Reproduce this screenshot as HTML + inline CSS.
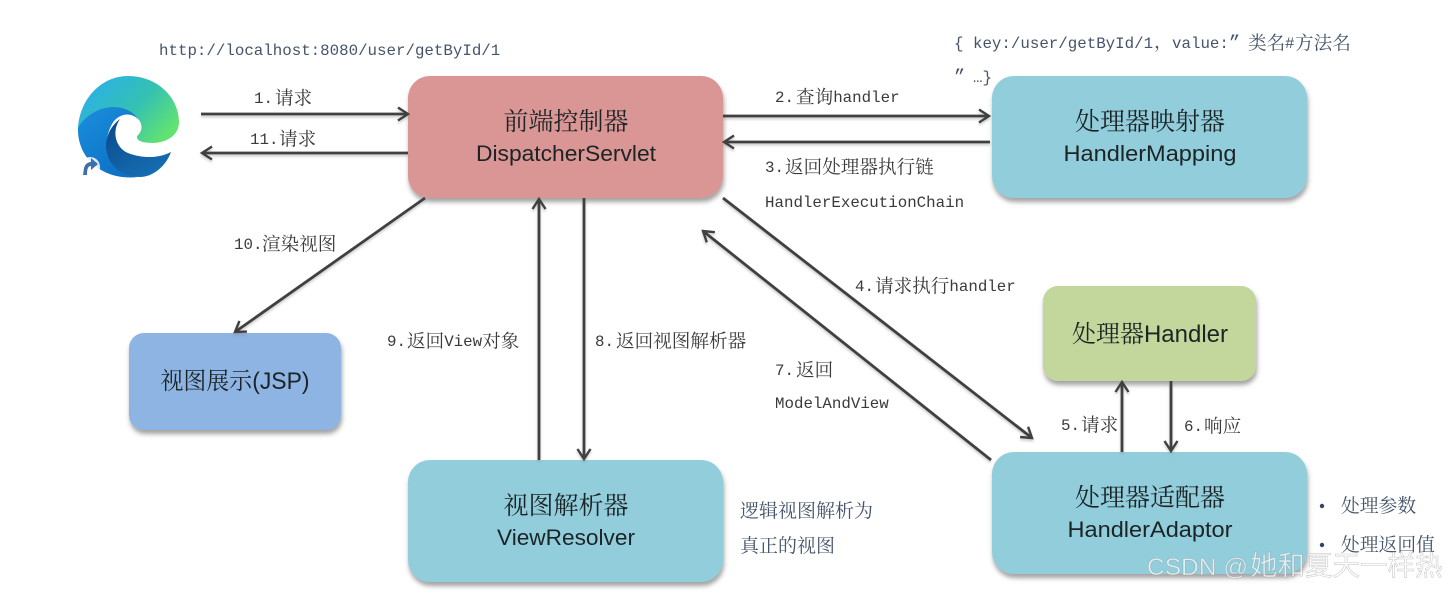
<!DOCTYPE html>
<html><head><meta charset="utf-8"><style>
html,body{margin:0;padding:0;background:#fff;width:1447px;height:592px;overflow:hidden}
svg{display:block}
.m{font-family:"Liberation Mono","Noto Serif CJK SC",monospace;font-size:15.8px;fill:#3a3a3a}
.b{font-family:"Liberation Mono","Noto Serif CJK SC",monospace;font-size:15.8px;fill:#44546a}
.k{font-size:18.6px}
.c{font-family:"Liberation Sans","Noto Serif CJK SC",sans-serif;fill:#1c2426;text-anchor:middle}
.z{font-size:25px}.e{font-size:22px}
.l{stroke:#404040;stroke-width:2.8;fill:none}
</style></head><body>
<svg width="1447" height="592" viewBox="0 0 1447 592" xmlns="http://www.w3.org/2000/svg">
<defs>
<filter id="s" x="-10%" y="-10%" width="120%" height="125%"><feDropShadow dx="1" dy="4" stdDeviation="2.5" flood-color="#555" flood-opacity=".55"/></filter>
<filter id="ls" filterUnits="userSpaceOnUse" x="0" y="0" width="1447" height="592"><feDropShadow dx="0" dy="2" stdDeviation="1.2" flood-color="#888" flood-opacity=".45"/></filter>
<marker id="a" markerUnits="userSpaceOnUse" markerWidth="16" markerHeight="16" refX="12" refY="8" orient="auto-start-reverse"><path d="M2 1.500L12 8L2 14.500" fill="none" stroke="#404040" stroke-width="2.4"/></marker>
<linearGradient id="g1" x1="0.1" y1="0.15" x2="1" y2="0.7"><stop offset="0" stop-color="#2bb0e6"/><stop offset=".55" stop-color="#35c2b0"/><stop offset="1" stop-color="#62e36f"/></linearGradient>
<linearGradient id="g2" x1="0" y1="0" x2="0.7" y2="1"><stop offset="0" stop-color="#1a8fdc"/><stop offset="1" stop-color="#0d70c4"/></linearGradient>
<linearGradient id="g3" x1="0.2" y1="0" x2="0.8" y2="1"><stop offset="0" stop-color="#0c4a8c"/><stop offset="1" stop-color="#1670b5"/></linearGradient>
</defs>

<!-- browser logo -->
<g>
<path d="M78 128C80 98 102 76 128 76C158 76 179 98 179 122C179 135 167 143 152 143C143 143 136 141 137 136C142 132 143 125 139 120C130 107 95 102 78 128Z" fill="url(#g1)"/>
<path d="M78 128C90 106 124 98 139 120C133 113 122 112 114 121C106 132 104 150 110 160C116 170 128 176 138 177C105 181 77 160 78 128Z" fill="url(#g2)"/>
<path d="M120 119C108 128 104 142 107 153C110 168 125 177 140 177C153 177 166 166 171 152C160 158 143 159 128 153C116 148 111 132 120 119Z" fill="url(#g3)"/>
<circle cx="90" cy="167" r="10" fill="#fff" fill-opacity=".85"/>
<path d="M83 175L84 168C85 164 88 162 91 162L91 158L98 164L91 170L91 166C88 166 87 169 87 175Z" fill="#3f6fa8"/>
</g>

<!-- nodes -->
<rect x="408" y="76" width="315" height="122" rx="22" fill="#d99694" filter="url(#s)"/>
<rect x="992" y="76" width="315" height="122" rx="22" fill="#92cddc" filter="url(#s)"/>
<rect x="1043" y="286" width="213" height="95" rx="15" fill="#c3d69b" filter="url(#s)"/>
<rect x="129" y="333" width="212" height="97" rx="15" fill="#8eb4e3" filter="url(#s)"/>
<rect x="408" y="460" width="315" height="122" rx="22" fill="#92cddc" filter="url(#s)"/>
<rect x="992" y="452" width="315" height="122" rx="22" fill="#92cddc" filter="url(#s)"/>

<!-- connectors -->
<g filter="url(#ls)">
<path class="l" d="M201 114H408" marker-end="url(#a)"/>
<path class="l" d="M408 153H202" marker-end="url(#a)"/>
<path class="l" d="M723 116H989" marker-end="url(#a)"/>
<path class="l" d="M990 142H724" marker-end="url(#a)"/>
<path class="l" d="M425 198L235 332" marker-end="url(#a)"/>
<path class="l" d="M539 460V199" marker-end="url(#a)"/>
<path class="l" d="M584 198V459" marker-end="url(#a)"/>
<path class="l" d="M723 198L1032 438" marker-end="url(#a)"/>
<path class="l" d="M991 460L703 231" marker-end="url(#a)"/>
<path class="l" d="M1122 452V382" marker-end="url(#a)"/>
<path class="l" d="M1171 381V451" marker-end="url(#a)"/>
</g>

<!-- node labels -->
<text class="c z" x="566" y="130">前端控制器</text>
<text class="c e" x="566" y="161" textLength="180" lengthAdjust="spacingAndGlyphs">DispatcherServlet</text>
<text class="c z" x="1150" y="130">处理器映射器</text>
<text class="c e" x="1150" y="161" textLength="173" lengthAdjust="spacingAndGlyphs">HandlerMapping</text>
<text class="c" style="font-size:24px" x="1150" y="342">处理器Handler</text>
<text class="c" style="font-size:24px" x="235" y="389" textLength="149" lengthAdjust="spacingAndGlyphs">视图展示(JSP)</text>
<text class="c z" x="566" y="514">视图解析器</text>
<text class="c e" x="566" y="545" textLength="138" lengthAdjust="spacingAndGlyphs">ViewResolver</text>
<text class="c z" x="1150" y="506">处理器适配器</text>
<text class="c e" x="1150" y="537" textLength="165" lengthAdjust="spacingAndGlyphs">HandlerAdaptor</text>

<!-- connector labels -->
<text class="b" x="159" y="55">http://localhost:8080/user/getById/1</text>
<text class="b" x="954" y="48">{ key:/user/getById/1<tspan class="k" x="1154">，</tspan><tspan x="1172">value:</tspan><tspan class="k" x="1229">”</tspan><tspan class="k" x="1248" dy="1.5">类名</tspan><tspan x="1285" dy="-1.5">#</tspan><tspan class="k" x="1295" dy="1.5">方法名</tspan></text>
<text class="b" x="954" y="82"><tspan class="k">”</tspan><tspan x="973">…}</tspan></text>
<text class="m" x="254" y="103">1.<tspan class="k" x="275" dy="1.5">请求</tspan></text>
<text class="m" x="250" y="144">11.<tspan class="k" x="279" dy="1.5">请求</tspan></text>
<text class="m" x="775" y="102">2.<tspan class="k" x="796" dy="1.5">查询</tspan><tspan dy="-1.5">handler</tspan></text>
<text class="m" x="765" y="172">3.<tspan class="k" x="785" dy="1.5">返回处理器执行链</tspan></text>
<text class="m" x="765" y="207">HandlerExecutionChain</text>
<text class="m" x="855" y="291">4.<tspan class="k" x="875" dy="1.5">请求执行</tspan><tspan dy="-1.5">handler</tspan></text>
<text class="m" x="1061" y="430">5.<tspan class="k" x="1081" dy="1.5">请求</tspan></text>
<text class="m" x="1184" y="431">6.<tspan class="k" x="1204" dy="1.5">响应</tspan></text>
<text class="m" x="775" y="375">7.<tspan class="k" x="796" dy="1.5">返回</tspan></text>
<text class="m" x="775" y="408">ModelAndView</text>
<text class="m" x="595" y="346">8.<tspan class="k" x="616" dy="1.5">返回视图解析器</tspan></text>
<text class="m" x="387" y="346">9.<tspan class="k" x="407" dy="1.5">返回</tspan><tspan dy="-1.5">View</tspan><tspan class="k" dy="1.5">对象</tspan></text>
<text class="m" x="234" y="249">10.<tspan class="k" x="262" dy="1.5">渲染视图</tspan></text>
<text class="b" x="740" y="517" style="font-size:19px">逻辑视图解析为</text>
<text class="b" x="740" y="552" style="font-size:19px">真正的视图</text>
<circle cx="1322" cy="506" r="2.200" fill="#2f4468"/>
<circle cx="1322" cy="545" r="2.200" fill="#2f4468"/>
<text class="b" x="1341" y="512" style="font-size:18.8px">处理参数</text>
<text class="b" x="1341" y="551" style="font-size:18.8px">处理返回值</text>
<text x="1147" y="575" style="font-family:'Liberation Sans','Noto Sans CJK SC',sans-serif;font-size:24.5px;fill:#fff;fill-opacity:.7;stroke:#777;stroke-opacity:.4;stroke-width:.6">CSDN @<tspan x="1250" style="font-size:27.5px">她和夏天一样热</tspan></text>
</svg>
</body></html>
